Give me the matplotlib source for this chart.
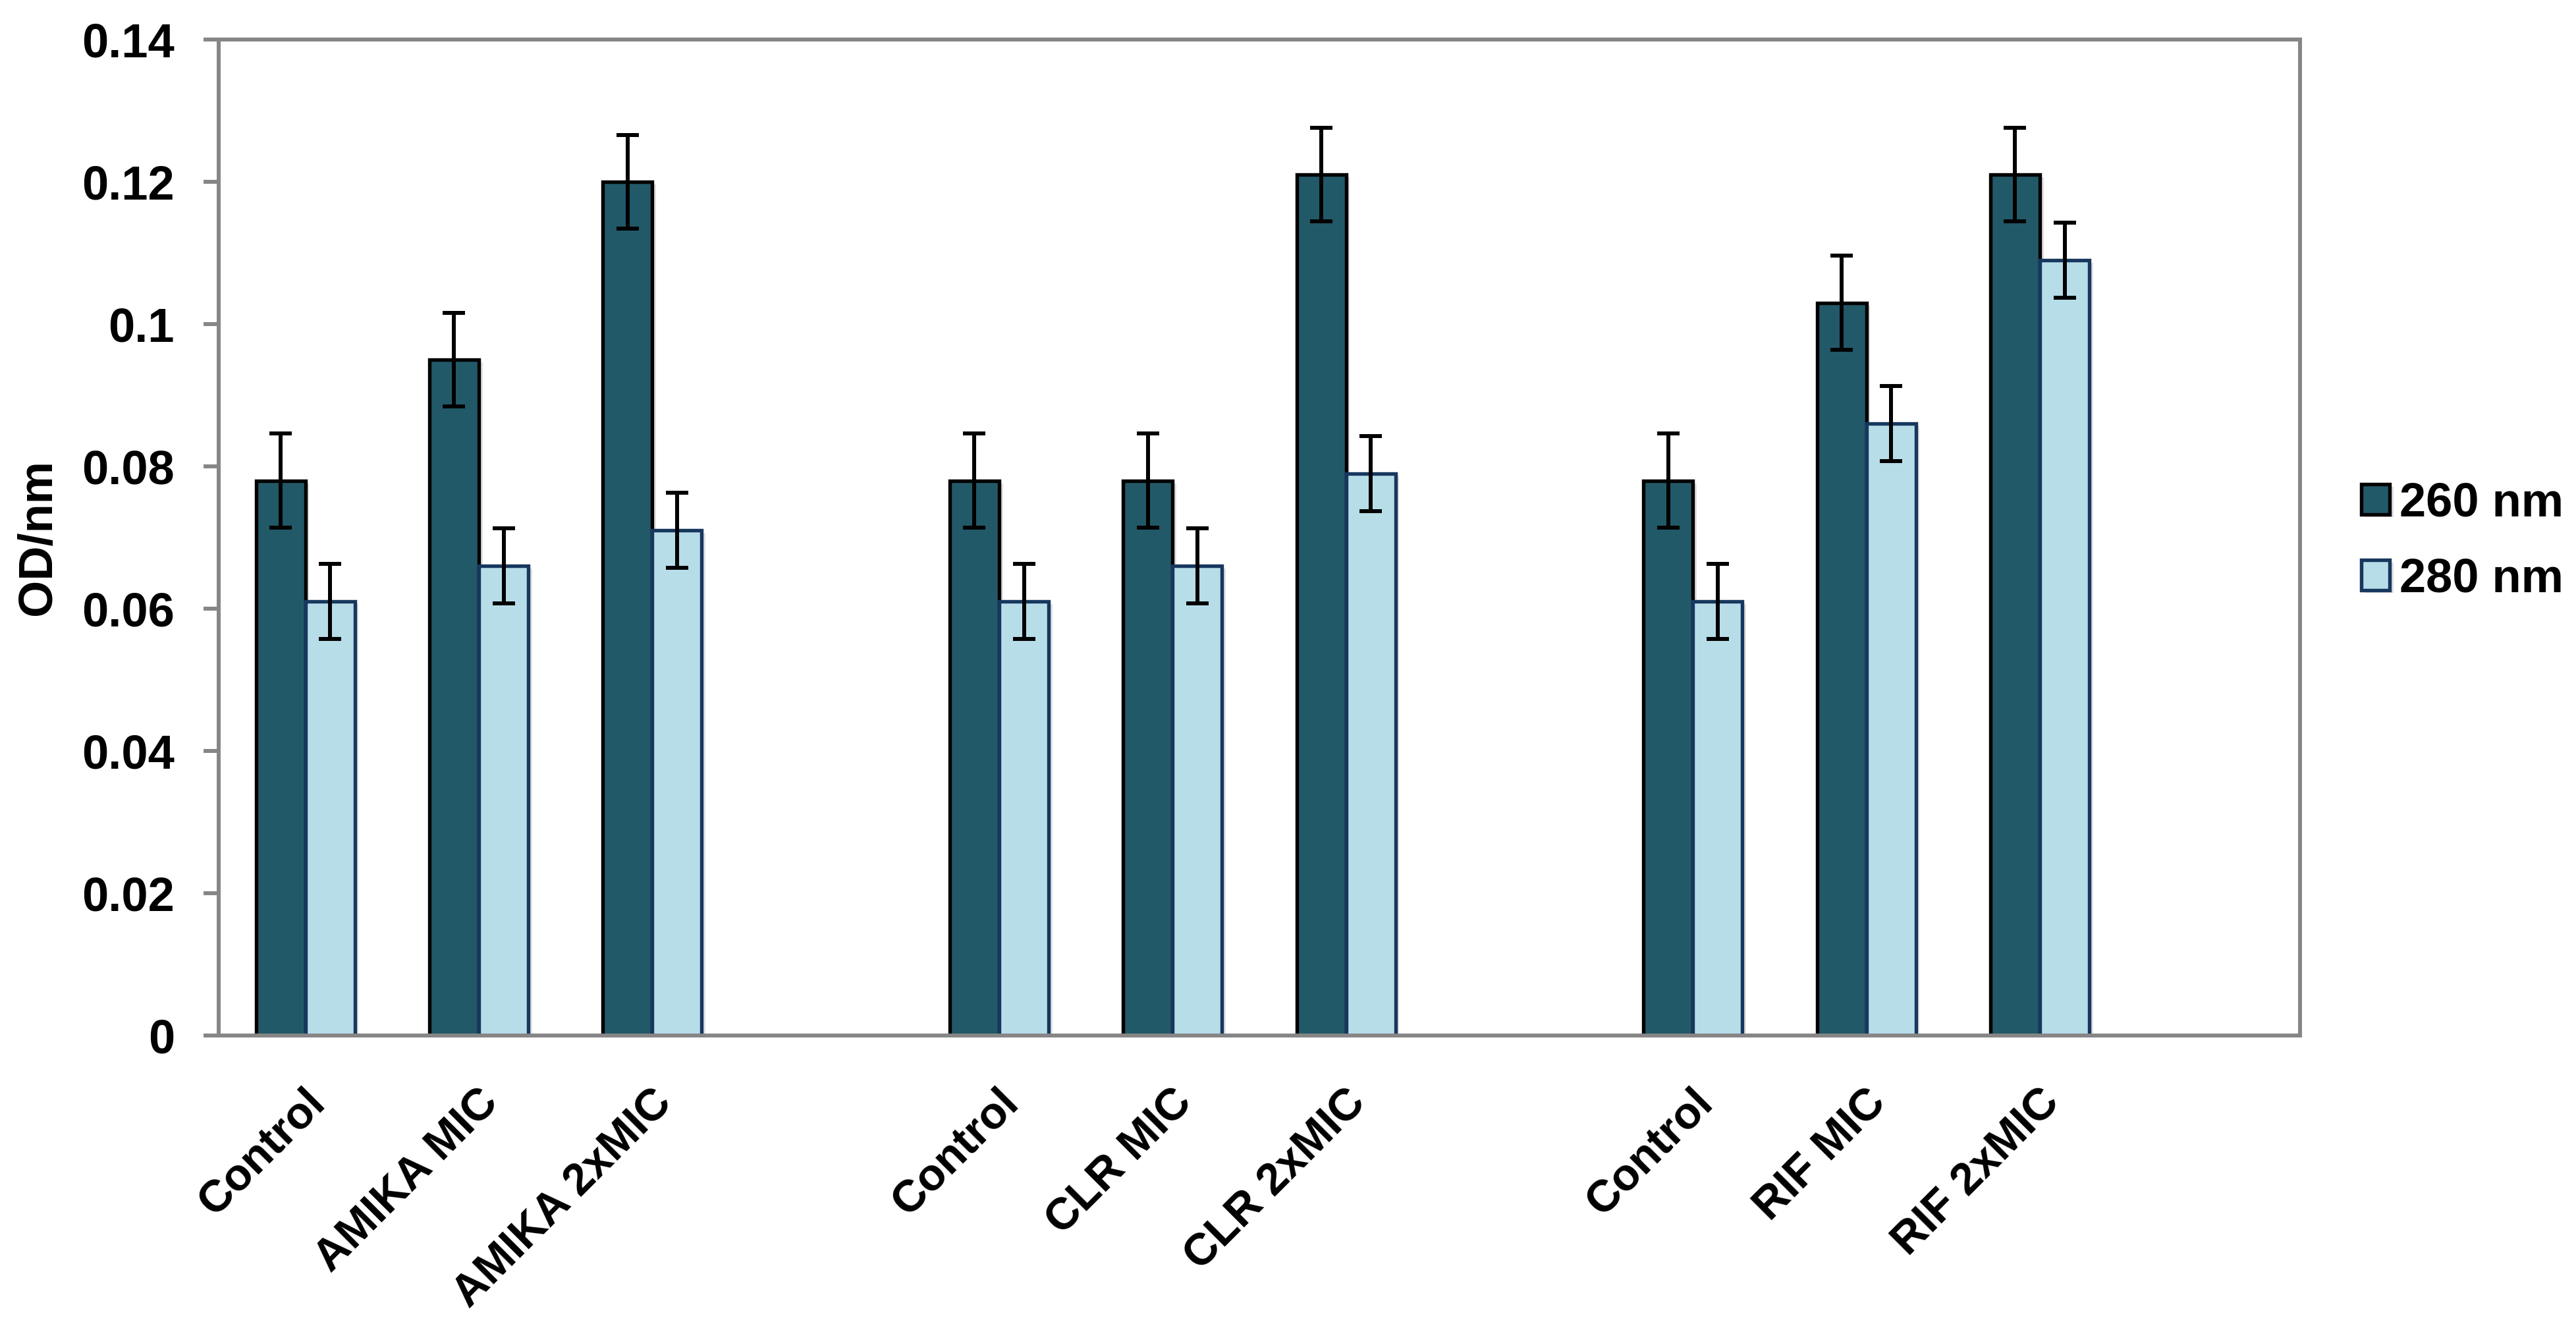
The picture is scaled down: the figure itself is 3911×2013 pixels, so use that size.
import matplotlib
matplotlib.use("Agg")
import matplotlib.pyplot as plt
from matplotlib import patheffects
from matplotlib.ticker import FuncFormatter, MultipleLocator
from matplotlib.transforms import ScaledTranslation
import numpy as np

# ---- data ----
categories = ["Control", "AMIKA MIC", "AMIKA 2xMIC",
              "Control", "CLR MIC", "CLR 2xMIC",
              "Control", "RIF MIC", "RIF 2xMIC"]
od_260 = [0.078, 0.095, 0.120, 0.078, 0.078, 0.121, 0.078, 0.103, 0.121]
od_280 = [0.061, 0.066, 0.071, 0.061, 0.066, 0.079, 0.061, 0.086, 0.109]
err_260 = [0.0066, 0.0066, 0.0066, 0.0066, 0.0066, 0.0066, 0.0066, 0.0066, 0.0066]
err_280 = [0.0053, 0.0053, 0.0053, 0.0053, 0.0053, 0.0053, 0.0053, 0.0053, 0.0053]
series_names = ["260 nm", "280 nm"]

plt.rcParams["font.family"] = ["Liberation Sans", "DejaVu Sans"]
plt.rcParams["font.weight"] = "bold"

DPI = 100
fig = plt.figure(figsize=(39.11, 20.13), dpi=DPI)
ax = fig.add_axes([332 / 3911, 1 - 1572 / 2013, (3492 - 332) / 3911, (1572 - 60) / 2013])

# groups of three with an empty slot after each group
pos = np.array([i + i // 3 for i in range(len(categories))], dtype=float)
w = 0.285

shadow = [patheffects.SimplePatchShadow(offset=(4, -3), shadow_rgbFace="black", alpha=0.12),
          patheffects.Normal()]

dark = "#225968"
light = "#B7DDE8"
navy = "#17375E"
gray = "#868686"

b1 = ax.bar(pos - w / 2, od_260, width=w, color=dark, edgecolor="black",
            linewidth=3.9, label=series_names[0], zorder=2)
b2 = ax.bar(pos + w / 2, od_280, width=w, color=light, edgecolor=navy,
            linewidth=3.9, label=series_names[1], zorder=2)
for p in list(b1) + list(b2):
    p.set_path_effects(shadow)

ekw = dict(fmt="none", ecolor="black", elinewidth=4.3, capsize=12.2, capthick=4.3, zorder=4)
ax.errorbar(pos - w / 2, od_260, yerr=err_260, **ekw)
ax.errorbar(pos + w / 2, od_280, yerr=err_280, **ekw)

ax.set_xlim(-0.5, 11.5)
ax.set_ylim(0, 0.14)
ax.yaxis.set_major_locator(MultipleLocator(0.02))
ax.yaxis.set_major_formatter(FuncFormatter(lambda v, _: "%g" % round(v, 3)))

for s in ax.spines.values():
    s.set_color(gray)
    s.set_linewidth(4.3)

ax.tick_params(axis="y", direction="out", length=16.5, width=4.3, color=gray,
               pad=31.7, labelsize=52)
ax.tick_params(axis="x", length=0, pad=50, labelsize=49)

ax.set_xticks(pos)
ax.set_xticklabels(categories, rotation=45, ha="right", va="top",
                   rotation_mode="anchor", fontweight="bold")
off = ScaledTranslation(-0.03, 0, fig.dpi_scale_trans)
for lab in ax.get_xticklabels():
    lab.set_transform(lab.get_transform() + off)
for lab in ax.get_yticklabels():
    lab.set_fontweight("bold")

ax.set_ylabel("OD/nm", fontsize=52, fontweight="bold", va="center")
ax.yaxis.set_label_coords((58 - 332) / (3492 - 332), 0.5)

leg = fig.legend(handles=[b1, b2], labels=series_names, loc="center left",
                 bbox_to_anchor=(3585 / 3911, 1 - 822 / 2013), frameon=False,
                 prop={"size": 52, "weight": "bold"}, handlelength=0.6,
                 handleheight=0.6, handletextpad=0.2, labelspacing=0.65,
                 borderpad=0, borderaxespad=0)

fig.savefig("out.png", dpi=DPI, facecolor="white")
